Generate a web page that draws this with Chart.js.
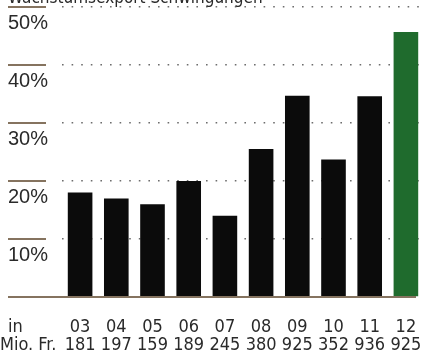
<!DOCTYPE html>
<html><head><meta charset="utf-8">
<script src="https://cdn.jsdelivr.net/npm/chart.js@4/dist/chart.umd.min.js"></script>
<style>html,body{margin:0;padding:0;background:#fff}#wrap{width:428px;height:351px;position:relative}</style>
</head><body><div id="wrap"><canvas id="c" width="428" height="351"></canvas></div>
<script>
const years = ['03','04','05','06','07','08','09','10','11','12'];
const volumes = ['181','197','159','189','245','380','925','352','936','925'];
const shares = [18, 17, 16, 20, 14, 25.5, 34.7, 23.7, 34.6, 45.7];
const yTicks = [10, 20, 30, 40, 50];
const titleText = 'Wachstumsexport Schwingungen';
const rowLabels = ['in', 'Mio. Fr.'];

const BLACK = '#0b0b0b', GREEN = '#1f6b2d', TAN = '#85735f', TEXT = '#2a2a2a';
const NARROW = '"Liberation Sans Narrow", "DejaVu Sans Condensed", "Liberation Sans", sans-serif';
const REG = '"Liberation Sans", Arial, sans-serif';

const decor = {
  id: 'decor',
  afterDraw(chart) {
    const ctx = chart.ctx, y = chart.scales.y;
    ctx.save();
    ctx.strokeStyle = TAN; ctx.lineWidth = 2;
    ctx.fillStyle = TEXT; ctx.font = '20px ' + REG; ctx.textAlign = 'left'; ctx.textBaseline = 'alphabetic';
    yTicks.forEach(v => {
      const py = Math.round(y.getPixelForValue(v));
      ctx.beginPath(); ctx.moveTo(8, py); ctx.lineTo(46, py); ctx.stroke();
      ctx.fillText(v + '%', 8, py + 22);
    });
    const by = Math.round(y.getPixelForValue(0));
    ctx.beginPath(); ctx.moveTo(8, by); ctx.lineTo(416, by); ctx.stroke();
    ctx.font = '18px ' + NARROW;
    ctx.fillText(rowLabels[0], 8, 332);
    ctx.fillText(rowLabels[1], 0, 350);
    ctx.font = '17px ' + NARROW;
    ctx.fillText(titleText, 8, 3);
    ctx.restore();
  }
};

new Chart(document.getElementById('c'), {
  type: 'bar',
  data: {
    labels: years.map((yr, i) => [yr, volumes[i]]),
    datasets: [{
      data: shares,
      backgroundColor: years.map((_, i) => i === years.length - 1 ? GREEN : BLACK),
      borderWidth: 0,
      barPercentage: 0.68,
      categoryPercentage: 1.0
    }]
  },
  options: {
    responsive: false,
    animation: false,
    devicePixelRatio: 1,
    layout: { padding: { left: 62, right: 4, top: 7, bottom: 0 } },
    plugins: { legend: { display: false }, tooltip: { enabled: false } },
    scales: {
      x: {
        grid: { display: false, drawTicks: false },
        border: { display: false },
        afterFit: (s) => { s.height = 54; s.paddingLeft = 0; s.paddingRight = 0; },
        ticks: {
          color: TEXT, padding: 21, maxRotation: 0, autoSkip: false,
          font: { family: NARROW, size: 18, lineHeight: 1.0 }
        }
      },
      y: {
        min: 0, max: 50,
        afterBuildTicks: (s) => { s.ticks = [0].concat(yTicks).map(v => ({ value: v })); },
        ticks: { display: false },
        grid: {
          drawTicks: false,
          color: (c) => c.tick && c.tick.value === 0 ? 'rgba(0,0,0,0)' : '#6d6d6d',
          lineWidth: 1.6
        },
        border: { display: false, dash: [1.6, 8] }
      }
    }
  },
  plugins: [decor]
});
</script></body></html>
